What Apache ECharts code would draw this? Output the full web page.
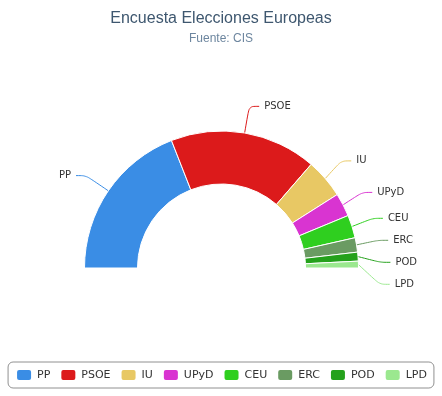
<!DOCTYPE html>
<html><head><meta charset="utf-8">
<script src="https://cdn.jsdelivr.net/npm/echarts@6/dist/echarts.min.js"></script>
<style>html,body{margin:0;padding:0;background:#fff}#c{width:442px;height:396px}</style>
</head><body><div id="c"></div>
<script>
const categories = ['PP','PSOE','IU','UPyD','CEU','ERC','POD','LPD'];
const values = [38.1, 34.6, 9.3, 5.5, 5.4, 3.4, 2.1, 1.6];
const colors = ['#3a8de5','#dc1a1b','#e8c864','#d934d1','#2fcf1f','#6a9b62','#24a11b','#9be88f'];

const chart = echarts.init(document.getElementById('c'));
chart.setOption({
  animation: false,
  title: {
    text: 'Encuesta Elecciones Europeas',
    subtext: 'Fuente: CIS',
    left: 'center', top: 6, itemGap: 6,
    textStyle: {fontFamily: 'Liberation Sans', fontSize: 16, fontWeight: 'normal', color: '#3e576f'},
    subtextStyle: {fontFamily: 'Liberation Sans', fontSize: 12, color: '#6d869f'}
  },
  legend: {
    data: categories,
    left: 'center', bottom: 8,
    borderColor: '#909090', borderWidth: 1, borderRadius: 5,
    padding: [6, 7, 6, 7],
    icon: 'roundRect', itemWidth: 16, itemHeight: 12, itemGap: 9,
    textStyle: {fontFamily: 'DejaVu Sans', fontSize: 11, color: '#333'}
  },
  series: [{
    type: 'pie',
    center: [221.5, 268],
    radius: [84, 137],
    startAngle: 180, endAngle: 0,
    clockwise: true,
    avoidLabelOverlap: true,
    data: categories.map((n, i) => ({name: n, value: values[i], itemStyle: {color: colors[i]}})),
    itemStyle: {borderColor: '#fff', borderWidth: 1},
    label: {fontFamily: 'DejaVu Sans', fontSize: 10, color: '#333', lineHeight: 20},
    labelLine: {length: 27, length2: 10, smooth: 0.3, lineStyle: {width: 1}}
  }]
});
</script></body></html>
